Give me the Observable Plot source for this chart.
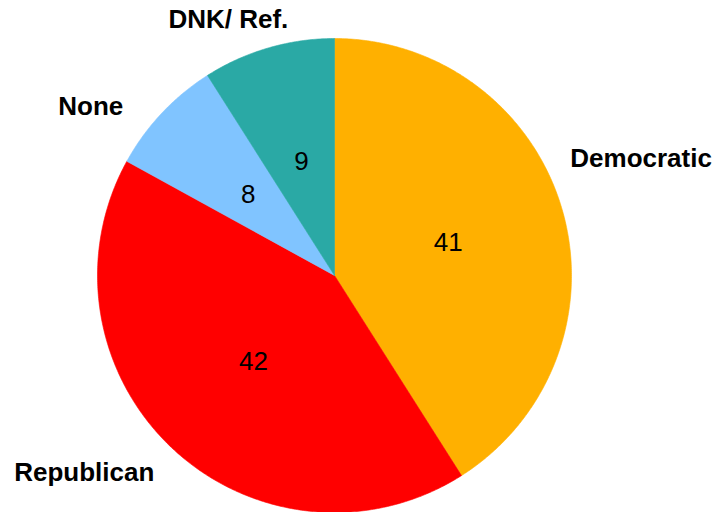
<!DOCTYPE html>
<html>
<head>
<meta charset="utf-8">
<script src="https://cdn.jsdelivr.net/npm/d3@7"></script>
<script src="https://cdn.jsdelivr.net/npm/@observablehq/plot@0.6"></script>
<style>
  html, body { margin: 0; padding: 0; background: #fff; }
  #chart { width: 716px; height: 512px; }
</style>
</head>
<body>
<div id="chart"></div>
<script>
// ---- data ----
const categories = ["Democratic", "Republican", "None", "DNK/ Ref."];
const values = [41, 42, 8, 9];
const colors = ["#FFB000", "#FF0000", "#80C4FF", "#2AA9A5"];

// ---- layout (pixel nudges of outer labels from the slice edge) ----
const labelNudge = {
  "Democratic": [79, -51],
  "Republican": [-88, 24],
  "None": [-71, -7],
  "DNK/ Ref.": [-40, -28]
};

const W = 716, H = 512, R = 237, CX = 334, CY = 275;

const rows = categories.map((c, i) => ({category: c, value: values[i]}));
const arcs = d3.pie().sort(null).value(d => d.value)(rows);

// polygon points for each slice (unit radius, angle clockwise from 12 o'clock)
const pts = [];
arcs.forEach(a => {
  const c = a.data.category;
  pts.push({slice: c, x: 0, y: 0});
  const n = Math.max(2, Math.ceil((a.endAngle - a.startAngle) / (Math.PI / 360)));
  for (let k = 0; k <= n; k++) {
    const t = a.startAngle + (a.endAngle - a.startAngle) * k / n;
    pts.push({slice: c, x: Math.sin(t), y: Math.cos(t)});
  }
  pts.push({slice: c, x: 0, y: 0});
});

const mids = arcs.map(a => {
  const m = (a.startAngle + a.endAngle) / 2;
  return {category: a.data.category, value: a.data.value, sx: Math.sin(m), sy: Math.cos(m)};
});

const plot = Plot.plot({
  width: W,
  height: H,
  margin: 0,
  x: {domain: [-CX / R, (W - CX) / R], axis: null},
  y: {domain: [-(H - CY) / R, CY / R], axis: null},
  color: {domain: categories, range: colors},
  style: {background: "white"},
  marks: [
    Plot.line(pts, {x: "x", y: "y", z: "slice", fill: "slice", stroke: "slice", strokeWidth: 0.6, curve: "linear"}),
    Plot.text(mids, {
      x: d => d.sx * 0.5, y: d => d.sy * 0.5, text: d => String(d.value),
      fontSize: 26, fontFamily: "Liberation Sans, Arial, sans-serif", fill: "black", lineAnchor: "middle"
    }),
    ...mids.map(d => Plot.text([d], {
      x: d => d.sx, y: d => d.sy, text: "category",
      dx: labelNudge[d.category][0], dy: labelNudge[d.category][1],
      fontSize: 26, fontWeight: "bold", fontFamily: "Liberation Sans, Arial, sans-serif",
      fill: "black", lineAnchor: "middle", textAnchor: "middle"
    }))
  ]
});
document.getElementById("chart").appendChild(plot);
</script>
</body>
</html>
